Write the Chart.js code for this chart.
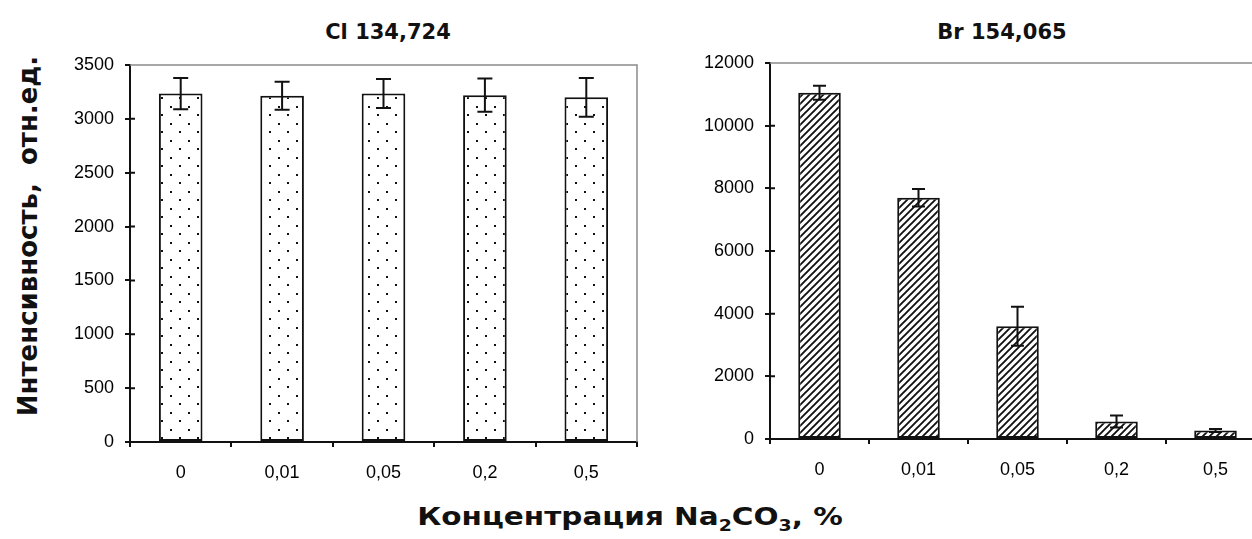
<!DOCTYPE html>
<html>
<head>
<meta charset="utf-8">
<script src="https://cdn.jsdelivr.net/npm/chart.js@4"></script>
<style>
  html, body { margin: 0; padding: 0; background: #fff; width: 1252px; height: 539px; overflow: hidden; position: relative; }
  .box { position: absolute; }
  .lbl { position: absolute; font-family: "DejaVu Sans"; font-weight: bold; color: #111; white-space: nowrap; transform: translate(-50%, -50%); }
</style>
</head>
<body>
<div class="lbl" style="left:388px;top:32px;font-size:21px">Cl 134,724</div>
<div class="lbl" style="left:1002px;top:32px;font-size:21px">Br 154,065</div>
<div class="lbl" style="left:28px;top:236px;font-size:26px;transform:translate(-50%,-50%) rotate(-90deg)">Интенсивность,&nbsp; отн.ед.</div>
<div class="lbl" style="left:630px;top:518px;font-size:25px;transform:translate(-50%,-50%) scaleX(1.18)">Концентрация Na<sub style="font-size:16px">2</sub>CO<sub style="font-size:16px">3</sub>, %</div>

<div class="box" style="left:40px;top:0;width:605px;height:492px"><canvas id="cl"></canvas></div>
<div class="box" style="left:680px;top:0;width:585px;height:489px"><canvas id="br"></canvas></div>

<script>
const categories = ['0', '0,01', '0,05', '0,2', '0,5'];
const clValues = [3235, 3215, 3235, 3220, 3200];
const clErrors = [145, 130, 135, 155, 180];
const brValues = [11050, 7700, 3600, 560, 270];
const brErrors = [220, 280, 620, 190, 50];
const clTicks = [0, 500, 1000, 1500, 2000, 2500, 3000, 3500];
const brTicks = [0, 2000, 4000, 6000, 8000, 10000, 12000];

// fill patterns
function dotPattern() {
  const c = document.createElement('canvas');
  c.width = 18; c.height = 17;
  const g = c.getContext('2d');
  g.fillStyle = '#fff';
  g.fillRect(0, 0, 18, 17);
  g.fillStyle = '#111';
  g.fillRect(4, 4, 2, 2);
  g.fillRect(13, 12, 2, 2);
  return g.createPattern(c, 'repeat');
}

function hatchPattern() {
  const c = document.createElement('canvas');
  c.width = 7; c.height = 7;
  const g = c.getContext('2d');
  g.fillStyle = '#fff';
  g.fillRect(0, 0, 7, 7);
  g.strokeStyle = '#111';
  g.lineWidth = 1.9;
  g.beginPath();
  g.moveTo(-1, 8); g.lineTo(8, -1);
  g.moveTo(-1, 1); g.lineTo(1, -1);
  g.moveTo(6, 8); g.lineTo(8, 6);
  g.stroke();
  return g.createPattern(c, 'repeat');
}

// Plugins

const errorBars = {
  id: 'errorBars',
  afterDatasetsDraw: (chart, args, options) => {
    const {ctx} = chart;
    const y = chart.scales.y;
    const data = chart.data.datasets[0].data;
    const meta = chart.getDatasetMeta(0);
    ctx.save();
    ctx.strokeStyle = '#111';
    ctx.lineWidth = 2;
    meta.data.forEach((bar, i) => {
      const v = data[i];
      const e = options.errors[i];
      const top = y.getPixelForValue(v + e);
      const bot = y.getPixelForValue(Math.max(0, v - e));
      ctx.beginPath();
      ctx.moveTo(bar.x, top); ctx.lineTo(bar.x, bot);
      ctx.moveTo(bar.x - options.cap, top); ctx.lineTo(bar.x + options.cap, top);
      ctx.moveTo(bar.x - options.cap, bot); ctx.lineTo(bar.x + options.cap, bot);
      ctx.stroke();
    });
    ctx.restore();
  }
};

// gray frame on top/right + inner half of the y tick marks
const plotFrame = {
  id: 'plotFrame',
  beforeDatasetsDraw: (chart) => {
    const {ctx, chartArea: a} = chart;
    const y = chart.scales.y;
    ctx.save();
    ctx.strokeStyle = '#8a8a8a';
    ctx.lineWidth = 1.5;
    ctx.beginPath();
    ctx.moveTo(a.left, a.top);
    ctx.lineTo(a.right, a.top);
    ctx.lineTo(a.right, a.bottom);
    ctx.stroke();
    ctx.strokeStyle = '#111';
    ctx.lineWidth = 2;
    ctx.beginPath();
    y.ticks.forEach((t) => {
      const py = y.getPixelForValue(t.value);
      if (py > a.top + 1 && py < a.bottom - 1) {
        ctx.moveTo(a.left, py);
        ctx.lineTo(a.left + 5, py);
      }
    });
    ctx.stroke();
    ctx.restore();
  }
};

function makeChart(id, values, errors, ticks, fill, cap, padTop, padRight) {
  return new Chart(document.getElementById(id), {
    type: 'bar',
    plugins: [plotFrame, errorBars],
    data: {
      labels: categories,
      datasets: [{
        data: values,
        backgroundColor: fill,
        borderColor: '#111',
        borderWidth: 2,
        borderSkipped: false,
        barPercentage: 0.43,
        categoryPercentage: 1
      }]
    },
    options: {
      responsive: true,
      maintainAspectRatio: false,
      animation: false,
      layout: { padding: { top: padTop, right: padRight, left: 0, bottom: 0 } },
      plugins: {
        legend: { display: false },
        tooltip: { enabled: false },
        errorBars: { errors: errors, cap: cap }
      },
      scales: {
        x: {
          grid: { drawOnChartArea: false, drawTicks: true, tickLength: 5, color: '#111', lineWidth: 2, offset: true },
          border: { color: '#111', width: 2 },
          ticks: { color: '#000', padding: 15, font: { family: 'Liberation Sans', size: 18 } },
          afterFit: (s) => { s.height = 50; }
        },
        y: {
          min: ticks[0],
          max: ticks[ticks.length - 1],
          grid: { drawOnChartArea: false, tickLength: 5, color: '#111', lineWidth: 2 },
          border: { color: '#111', width: 2 },
          ticks: {
            stepSize: ticks[1] - ticks[0],
            color: '#000',
            padding: 11,
            font: { family: 'Liberation Sans', size: 18 },
            callback: (v) => String(v)
          },
          afterFit: (s) => { s.width = 90; }
        }
      }
    }
  });
}

const clChart = makeChart('cl', clValues, clErrors, clTicks, dotPattern(), 7.5, 65, 8);
const brChart = makeChart('br', brValues, brErrors, brTicks, hatchPattern(), 6.5, 63, 0);
</script>
</body>
</html>
